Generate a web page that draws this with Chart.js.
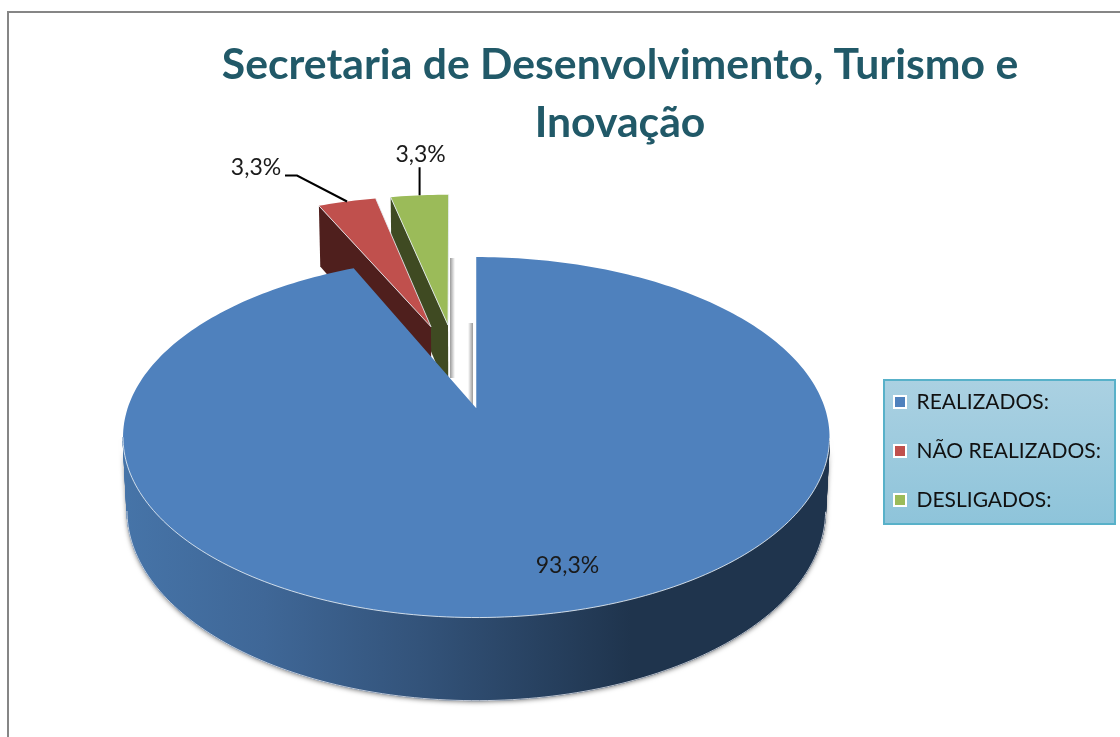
<!DOCTYPE html>
<html>
<head>
<meta charset="utf-8">
<script src="https://cdn.jsdelivr.net/npm/chart.js@4/dist/chart.umd.js"></script>
<style>
  html, body { margin: 0; padding: 0; background: #fff; }
  canvas { display: block; }
</style>
</head>
<body>
<canvas id="pieChart" width="1120" height="737"></canvas>
<script>
const categories = ['REALIZADOS:', 'NÃO REALIZADOS:', 'DESLIGADOS:'];
const seriesValues = [93.3, 3.3, 3.3];
const titleLines = ['Secretaria de Desenvolvimento, Turismo e', 'Inovação'];
const topColors = ['#4f81bd', '#c0504d', '#9bbb59'];
const wallColors = ['#1f344d', '#4f1f1d', '#3f4a22'];

// fake 3d: disc coords (u, v) + depth h go through a small perspective projection
const view = { cx: 476, cy: 407.5, a: 348.4, b: 175.3, p: 0.161, q: 0.011, k: 72.9 };
const pieCentre = { u: -0.06, v: 0.25 };
const explode = 0.26;
const rimNudge = [0.0072, -0.0106, -0.0106];
const apexNudge = [0.0072, 0, 0];
// cos(angle) below this is the part of the rim in front of the widest point
const frontLimit = -0.16;

function project(u, v, h) {
    const w = 1 + view.p * v + view.q * h;
    return { x: view.cx + view.a * u / w, y: view.cy - (view.b * v - view.k * h) / w };
}

function sliceInfo(el, i) {
    const start = el.startAngle + Math.PI / 2;
    const end = el.endAngle + Math.PI / 2;
    const mid = (start + end) / 2;
    const ou = pieCentre.u + explode * Math.sin(mid);
    const ov = pieCentre.v + explode * Math.cos(mid);
    return { start, end, mid, ou: ou + rimNudge[i], ov, au: ou + apexNudge[i] };
}

function rimPoint(s, angle, r, h) {
    return project(s.ou + r * Math.sin(angle), s.ov + r * Math.cos(angle), h);
}

function rimAngles(s) {
    const list = [];
    const steps = Math.max(4, Math.ceil((s.end - s.start) / 0.02));
    for (let i = 0; i <= steps; i++) {
        list.push(s.start + (s.end - s.start) * i / steps);
    }
    return list;
}

function tracePoints(ctx, pts, open) {
    ctx.beginPath();
    pts.forEach((p, i) => i ? ctx.lineTo(p.x, p.y) : ctx.moveTo(p.x, p.y));
    if (!open) ctx.closePath();
}

function drawBlueWall(ctx, s, angles) {
    const wallFill = ctx.createLinearGradient(123, 0, 829, 0);
    wallFill.addColorStop(0, '#4674a8');
    wallFill.addColorStop(0.2, '#3f6797');
    wallFill.addColorStop(0.42, '#33537a');
    wallFill.addColorStop(0.72, '#1f344d');
    wallFill.addColorStop(1, '#1f344d');

    const front = angles.filter(t => Math.cos(t) < frontLimit);
    const topFront = front.map(t => rimPoint(s, t, 1, 0));
    const bottomFront = front.map(t => rimPoint(s, t, 1, 1));

    // one shadow only, per-quad shadows stack up to solid black
    ctx.save();
    ctx.shadowColor = 'rgba(0,0,0,0.55)';
    ctx.shadowBlur = 5;
    ctx.shadowOffsetY = 1;
    ctx.fillStyle = wallFill;
    tracePoints(ctx, bottomFront.concat(topFront.slice().reverse()));
    ctx.fill();
    ctx.restore();

    ctx.fillStyle = wallFill;
    ctx.strokeStyle = wallFill;
    ctx.lineWidth = 1;
    for (let j = 0; j < front.length - 1; j++) {
        tracePoints(ctx, [topFront[j], topFront[j + 1], bottomFront[j + 1], bottomFront[j]]);
        ctx.fill();
        ctx.stroke();
    }

    ctx.strokeStyle = 'rgba(225,228,235,0.8)';
    tracePoints(ctx, bottomFront, true);
    ctx.stroke();
}

function drawSlice(ctx, el, i) {
    const s = sliceInfo(el, i);
    const angles = rimAngles(s);
    const top = angles.map(t => rimPoint(s, t, 1, 0));
    const apexTop = project(s.au, s.ov, 0);

    if (i === 0) {
        drawBlueWall(ctx, s, angles);
    } else {
        // small slices only show the wall on their start side
        ctx.fillStyle = wallColors[i];
        tracePoints(ctx, [apexTop, top[0], rimPoint(s, s.start, 1, 1), project(s.au, s.ov, 1)]);
        ctx.fill();
    }

    ctx.fillStyle = el.options.backgroundColor;
    tracePoints(ctx, [apexTop].concat(top));
    ctx.fill();

    ctx.strokeStyle = 'rgba(232,238,244,0.85)';
    ctx.lineWidth = 1;
    if (i === 0) {
        const front = angles.filter(t => Math.cos(t) < frontLimit);
        tracePoints(ctx, front.map(t => rimPoint(s, t, 1, 0)), true);
    } else {
        tracePoints(ctx, [top[0], apexTop, top[top.length - 1]], true);
    }
    ctx.stroke();
}

function softBand(ctx, x, y, w, h, flip) {
    const g = ctx.createLinearGradient(x, 0, x + w, 0);
    g.addColorStop(flip ? 1 : 0, 'rgba(120,120,120,0.75)');
    g.addColorStop(flip ? 0 : 1, 'rgba(120,120,120,0)');
    ctx.fillStyle = g;
    ctx.fillRect(x, y, w, h);
}

const pie3d = {
    id: 'pie3d',
    beforeDraw(chart) {
        const ctx = chart.ctx;
        ctx.save();
        ctx.strokeStyle = '#868686';
        ctx.lineWidth = 2;
        ctx.strokeRect(8, 12, 1300, 1000);

        const box = ctx.createLinearGradient(0, 379, 0, 524);
        box.addColorStop(0, '#abd1e2');
        box.addColorStop(1, '#8ec4da');
        ctx.fillStyle = box;
        ctx.fillRect(884, 380, 231, 144);
        ctx.strokeStyle = '#58b1c9';
        ctx.strokeRect(884, 380, 231, 144);
        ctx.restore();

        // legend goes inside its box, not where the layout wants it
        const legend = chart.legend;
        legend.left = 866;
        legend.right = 1115;
        legend.top = 363.5;
        legend.bottom = 560;
    },
    beforeDatasetsDraw(chart) {
        const ctx = chart.ctx;
        const els = chart.getDatasetMeta(0).data;
        ctx.save();
        softBand(ctx, 450, 258, 5, 120, false);
        softBand(ctx, 468, 323, 5, 85, true);
        drawSlice(ctx, els[2], 2);
        drawSlice(ctx, els[1], 1);
        drawSlice(ctx, els[0], 0);

        // value labels and the two leader lines
        const text = seriesValues.map(v => v.toFixed(1).replace('.', ',') + '%');
        ctx.fillStyle = '#1a1a1a';
        ctx.font = '23px Lato';
        ctx.textAlign = 'center';
        ctx.textBaseline = 'middle';
        const sBlue = sliceInfo(els[0], 0);
        const sRed = sliceInfo(els[1], 1);
        const sGreen = sliceInfo(els[2], 2);
        const blue = rimPoint(sBlue, sBlue.mid, 0.82, 0);
        ctx.fillText(text[0], blue.x + 23.5, blue.y - 4);

        const red = rimPoint(sRed, sRed.mid, 1, 0);
        const green = rimPoint(sGreen, sGreen.mid, 1, 0);
        ctx.strokeStyle = '#000';
        ctx.lineWidth = 2;
        ctx.beginPath();
        ctx.moveTo(red.x, red.y);
        ctx.lineTo(red.x - 50, red.y - 26);
        ctx.lineTo(red.x - 62, red.y - 26);
        ctx.moveTo(green.x, green.y);
        ctx.lineTo(green.x, green.y - 28);
        ctx.stroke();
        ctx.fillText(text[1], red.x - 91, red.y - 34);
        ctx.fillText(text[2], green.x + 1, green.y - 41);
        ctx.restore();
        return false;
    }
};

new Chart(document.getElementById('pieChart').getContext('2d'), {
    type: 'pie',
    data: {
        labels: categories,
        datasets: [{
            data: seriesValues,
            backgroundColor: topColors,
            borderColor: '#ffffff',
            borderWidth: 2
        }]
    },
    options: {
        responsive: false,
        animation: false,
        layout: { padding: { left: 120 } },
        plugins: {
            tooltip: { enabled: false },
            title: {
                display: true,
                text: titleLines,
                color: '#215968',
                font: { family: 'Lato', weight: 'bold', size: 42.7, lineHeight: 1.36 },
                padding: { top: 36, bottom: 10 }
            },
            legend: {
                position: 'right',
                align: 'start',
                labels: {
                    color: '#111111',
                    font: { family: 'Lato', size: 21 },
                    boxWidth: 12,
                    boxHeight: 12,
                    padding: 28
                }
            }
        }
    },
    plugins: [pie3d]
});
</script>
</body>
</html>
